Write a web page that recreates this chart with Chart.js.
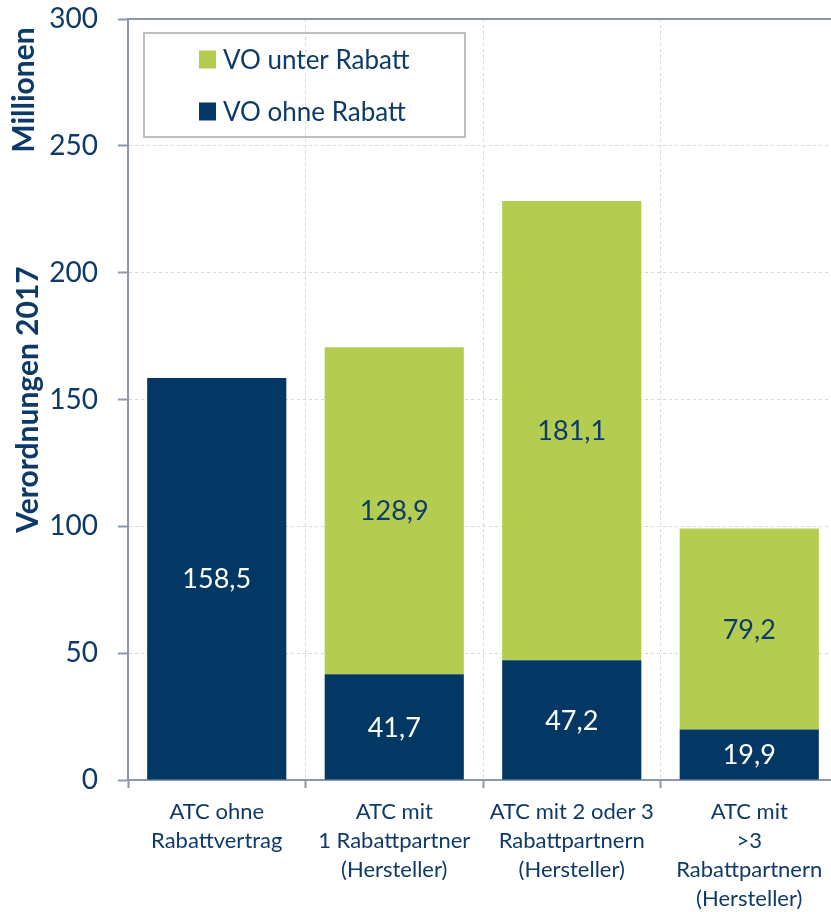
<!DOCTYPE html>
<html><head><meta charset="utf-8">
<script src="https://cdn.jsdelivr.net/npm/chart.js@4"></script>
<style>html,body{margin:0;padding:0;background:#fff;overflow:hidden}#wrap{width:840px;height:912px;position:relative}</style>
</head><body><div id="wrap"><canvas id="c" width="840" height="912"></canvas></div>
<script>
const categories = [["ATC ohne","Rabattvertrag"],["ATC mit","1 Rabattpartner","(Hersteller)"],["ATC mit 2 oder 3","Rabattpartnern","(Hersteller)"],["ATC mit",">3","Rabattpartnern","(Hersteller)"]];
const ohneRabatt = [158.5, 41.7, 47.2, 19.9];
const unterRabatt = [null, 128.9, 181.1, 79.2];
const yMin = 0, yMax = 300, yStep = 50;
const seriesNames = ["VO ohne Rabatt","VO unter Rabatt"];
const axisTitles = ["Millionen","Verordnungen 2017"];

const NAVY = '#033864', GREEN = '#B4CD51', TXT = '#0E3A68', AXIS = '#8D97AA', GRID = '#D9D9D9';
const FONT = 'Lato, "Open Sans", sans-serif';

const fmt = v => v.toFixed(1).replace('.', ',');

const extras = {
  id: 'extras',
  afterDraw(chart) {
    const ctx = chart.ctx, ca = chart.chartArea, y = chart.scales.y;
    ctx.save();
    const yt = y.getPixelForValue(yMax);
    ctx.strokeStyle = AXIS; ctx.lineWidth = 2;
    ctx.beginPath(); ctx.moveTo(ca.left, yt); ctx.lineTo(chart.width, yt); ctx.stroke();
    chart.data.datasets.forEach((ds, di) => {
      const meta = chart.getDatasetMeta(di);
      meta.data.forEach((el, i) => {
        const v = ds.data[i];
        if (v == null) return;
        ctx.fillStyle = ds.labelColor;
        ctx.font = '27px ' + FONT;
        ctx.textAlign = 'center'; ctx.textBaseline = 'middle';
        ctx.fillText(fmt(v), el.x, (el.y + el.base) / 2 + 1);
      });
    });
    const lx = ca.left + 16, ly = ca.top + 14, lw = 321, lh = 104;
    ctx.strokeStyle = '#BFBFBF'; ctx.lineWidth = 2;
    ctx.strokeRect(lx, ly, lw, lh);
    const order = [1, 0];
    order.forEach((di, k) => {
      const ds = chart.data.datasets[di];
      const cy = ly + 26.5 + k * 52;
      ctx.fillStyle = ds.backgroundColor;
      ctx.fillRect(lx + 55, cy - 9, 17, 18);
      ctx.fillStyle = TXT;
      ctx.font = '26px ' + FONT;
      ctx.textAlign = 'left'; ctx.textBaseline = 'middle';
      ctx.fillText(ds.label, lx + 79, cy + 1.5);
    });
    ctx.fillStyle = TXT;
    ctx.font = 'bold 30px ' + FONT;
    ctx.textAlign = 'center'; ctx.textBaseline = 'alphabetic';
    ctx.save(); ctx.translate(34, ca.top + 71); ctx.rotate(-Math.PI / 2); ctx.fillText(axisTitles[0], 0, 0); ctx.restore();
    ctx.save(); ctx.translate(38, (ca.top + ca.bottom) / 2); ctx.rotate(-Math.PI / 2); ctx.fillText(axisTitles[1], 0, 0); ctx.restore();
    ctx.restore();
  }
};

new Chart(document.getElementById('c'), {
  type: 'bar',
  data: {
    labels: categories,
    datasets: [
      { label: seriesNames[0], data: ohneRabatt, backgroundColor: NAVY, labelColor: '#FFFFFF', stack: 's' },
      { label: seriesNames[1], data: unterRabatt, backgroundColor: GREEN, labelColor: TXT, stack: 's' }
    ]
  },
  options: {
    responsive: false,
    animation: false,
    devicePixelRatio: 1,
    categoryPercentage: 1,
    barPercentage: 0.784,
    layout: { padding: { top: 19, right: 2, left: 0, bottom: 0 } },
    plugins: { legend: { display: false }, tooltip: { enabled: false } },
    scales: {
      x: {
        stacked: true,
        afterFit(s) { s.height = 132; },
        grid: { color: GRID, lineWidth: 1, tickLength: 8, tickColor: AXIS, tickWidth: 2, offset: true },
        border: { color: AXIS, width: 2, dash: [3, 3] },
        ticks: { color: TXT, font: { family: FONT, size: 22, lineHeight: 1.32 }, padding: 9, maxRotation: 0, autoSkip: false }
      },
      y: {
        stacked: true,
        min: yMin, max: yMax,
        afterFit(s) { s.width = 128; s.paddingTop = 0; s.paddingBottom = 0; },
        grid: { color: GRID, lineWidth: 1, tickLength: 10, tickColor: AXIS, tickWidth: 2 },
        border: { color: AXIS, width: 2, dash: [3, 3] },
        ticks: { stepSize: yStep, color: TXT, font: { family: FONT, size: 28 }, padding: 20 }
      }
    }
  },
  plugins: [extras]
});
</script></body></html>
